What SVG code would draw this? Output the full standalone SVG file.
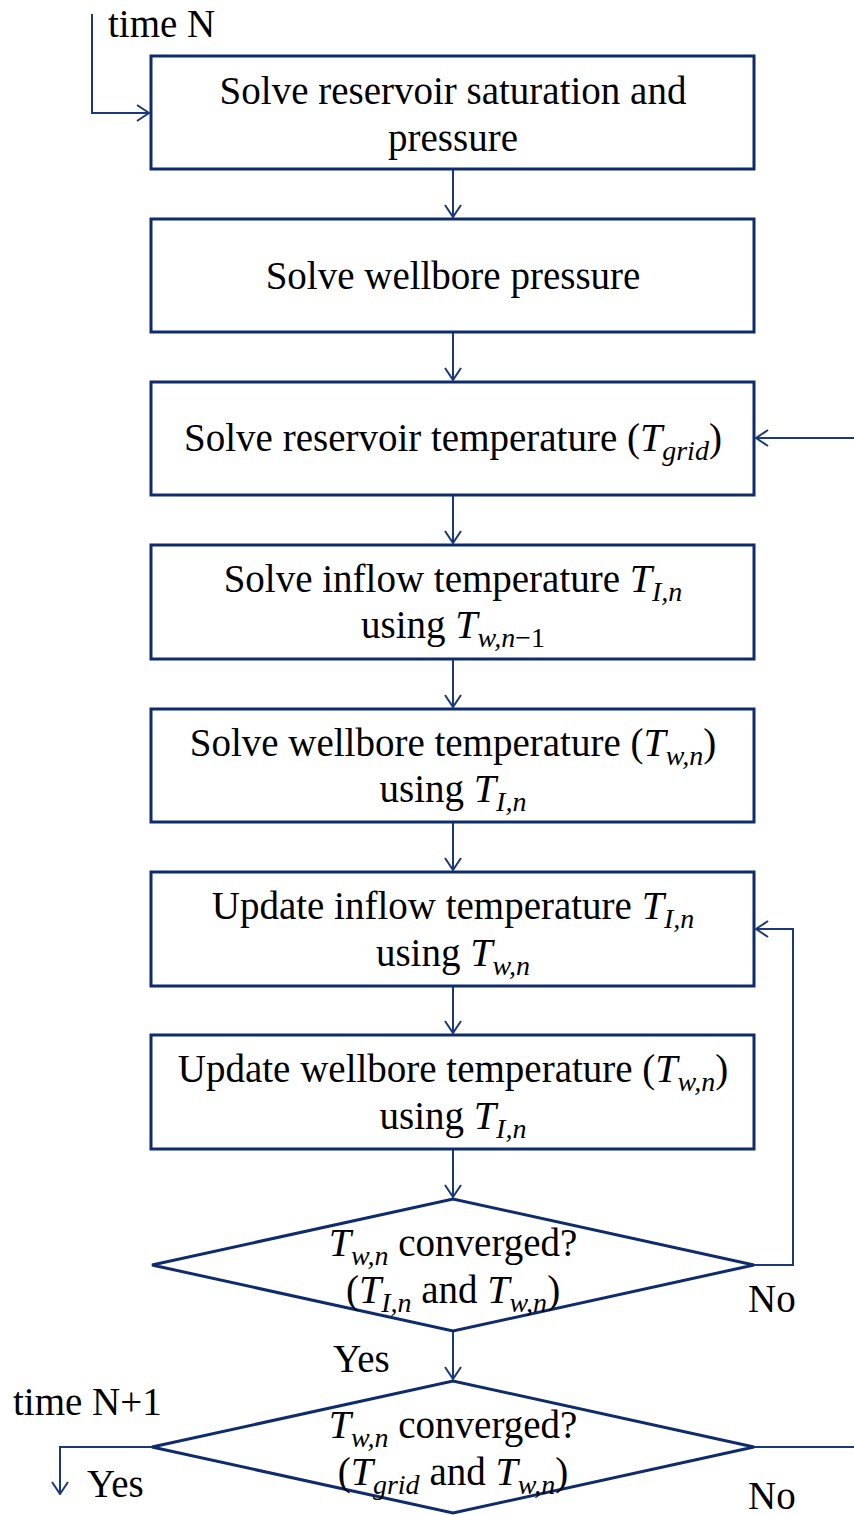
<svg xmlns="http://www.w3.org/2000/svg" width="854" height="1515" viewBox="0 0 854 1515">
<style>
.box{fill:#fff;stroke:#0e2b6b;stroke-width:3}
.con{fill:none;stroke:#1b3878;stroke-width:2}
text{font-family:"Liberation Serif","Times New Roman",serif;font-size:39px;fill:#000}
.c{text-anchor:middle}
.m{font-style:italic;font-size:40px}
.s{font-style:italic;font-size:28px}
.u{font-size:28px}
</style>
<defs>
<marker id="ah" markerUnits="userSpaceOnUse" markerWidth="14" markerHeight="20" viewBox="0 0 14 20" refX="13" refY="10" orient="auto">
<path d="M1,2 L13,10 L1,18" fill="none" stroke="#1b3878" stroke-width="2"/>
</marker>
</defs>
<rect width="854" height="1515" fill="#fff"/>
<g id="connectors">
<path class="con" d="M92,14 V113 H149" marker-end="url(#ah)"/>
<path class="con" d="M453,169 V217" marker-end="url(#ah)"/>
<path class="con" d="M453,332 V380" marker-end="url(#ah)"/>
<path class="con" d="M453,495 V543" marker-end="url(#ah)"/>
<path class="con" d="M453,659 V707" marker-end="url(#ah)"/>
<path class="con" d="M453,822 V870" marker-end="url(#ah)"/>
<path class="con" d="M453,986 V1033" marker-end="url(#ah)"/>
<path class="con" d="M453,1149 V1197" marker-end="url(#ah)"/>
<path class="con" d="M453,1331 V1379" marker-end="url(#ah)"/>
<path class="con" d="M854,438 H756" marker-end="url(#ah)"/>
<path class="con" d="M754,1265 H793 V929 H756" marker-end="url(#ah)"/>
<path class="con" d="M152,1447 H60 V1494" marker-end="url(#ah)"/>
<path class="con" d="M754,1447 H854"/>
</g>
<g id="label-timeN"><text x="108" y="37">time N</text></g>
<g id="n1">
<rect class="box" x="151" y="56" width="603" height="113"/>
<text class="c" x="453" y="104">Solve reservoir saturation and</text>
<text class="c" x="453" y="151">pressure</text>
</g>
<g id="n2">
<rect class="box" x="151" y="219" width="603" height="113"/>
<text class="c" x="453" y="289">Solve wellbore pressure</text>
</g>
<g id="n3">
<rect class="box" x="151" y="382" width="603" height="113"/>
<text class="c" x="453" y="451">Solve reservoir temperature (<tspan class="m">T</tspan><tspan class="s" dy="9">grid</tspan><tspan dy="-9">)</tspan></text>
</g>
<g id="n4">
<rect class="box" x="151" y="545" width="603" height="114"/>
<text class="c" x="453" y="592">Solve inflow temperature <tspan class="m">T</tspan><tspan class="s" dy="9">I,n</tspan></text>
<text class="c" x="453" y="638">using <tspan class="m">T</tspan><tspan class="s" dy="9">w,n</tspan><tspan class="u">−1</tspan></text>
</g>
<g id="n5">
<rect class="box" x="151" y="709" width="603" height="113"/>
<text class="c" x="453" y="756">Solve wellbore temperature (<tspan class="m">T</tspan><tspan class="s" dy="9">w,n</tspan><tspan dy="-9">)</tspan></text>
<text class="c" x="453" y="802">using <tspan class="m">T</tspan><tspan class="s" dy="9">I,n</tspan></text>
</g>
<g id="n6">
<rect class="box" x="151" y="872" width="603" height="114"/>
<text class="c" x="453" y="919">Update inflow temperature <tspan class="m">T</tspan><tspan class="s" dy="9">I,n</tspan></text>
<text class="c" x="453" y="966">using <tspan class="m">T</tspan><tspan class="s" dy="9">w,n</tspan></text>
</g>
<g id="n7">
<rect class="box" x="151" y="1035" width="603" height="114"/>
<text class="c" x="453" y="1082">Update wellbore temperature (<tspan class="m">T</tspan><tspan class="s" dy="9">w,n</tspan><tspan dy="-9">)</tspan></text>
<text class="c" x="453" y="1129">using <tspan class="m">T</tspan><tspan class="s" dy="9">I,n</tspan></text>
</g>
<g id="d1">
<polygon class="box" points="152,1265 453,1199 754,1265 453,1331"/>
<text class="c" x="453" y="1256"><tspan class="m">T</tspan><tspan class="s" dy="9">w,n</tspan><tspan dy="-9"> converged?</tspan></text>
<text class="c" x="453" y="1303">(<tspan class="m">T</tspan><tspan class="s" dy="9">I,n</tspan><tspan dy="-9"> and </tspan><tspan class="m">T</tspan><tspan class="s" dy="9">w,n</tspan><tspan dy="-9">)</tspan></text>
</g>
<g id="d2">
<polygon class="box" points="152,1447 453,1381 754,1447 453,1513"/>
<text class="c" x="453" y="1438"><tspan class="m">T</tspan><tspan class="s" dy="9">w,n</tspan><tspan dy="-9"> converged?</tspan></text>
<text class="c" x="453" y="1485">(<tspan class="m">T</tspan><tspan class="s" dy="9">grid</tspan><tspan dy="-9"> and </tspan><tspan class="m">T</tspan><tspan class="s" dy="9">w,n</tspan><tspan dy="-9">)</tspan></text>
</g>
<g id="labels">
<text x="748" y="1312">No</text>
<text x="333" y="1372">Yes</text>
<text x="13" y="1415">time N+1</text>
<text x="87" y="1497">Yes</text>
<text x="748" y="1509">No</text>
</g>
</svg>
